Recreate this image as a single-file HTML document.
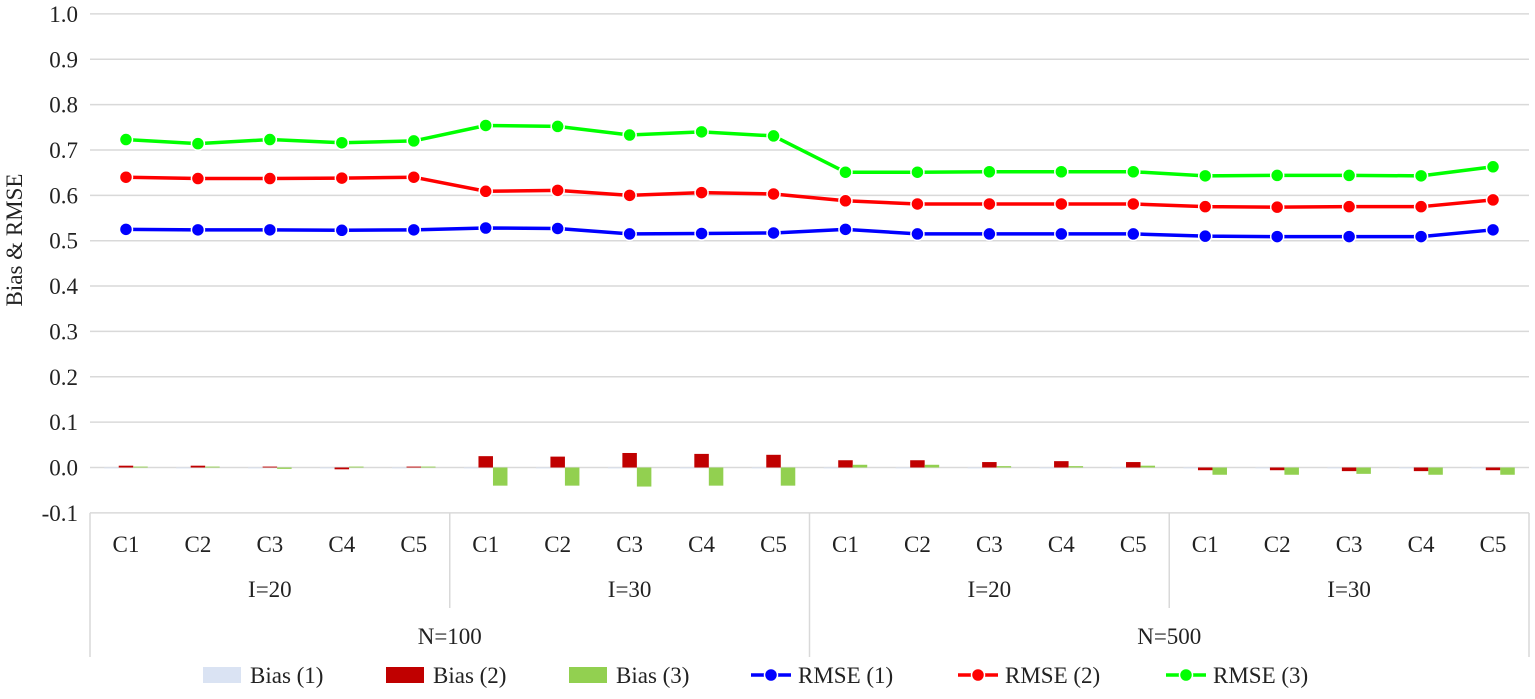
<!DOCTYPE html>
<html><head><meta charset="utf-8"><style>
body{margin:0;background:#fff;}
svg text{font-family:"Liberation Serif",serif;fill:#222;}
</style></head><body>
<svg id="chart" width="1535" height="694" xmlns="http://www.w3.org/2000/svg">
<g id="grid"></g><g id="bars"></g><g id="lines"></g><g id="axis"></g><g id="legend"></g>
</svg>
<script>
const categories=["C1","C2","C3","C4","C5","C1","C2","C3","C4","C5","C1","C2","C3","C4","C5","C1","C2","C3","C4","C5"];
const iGroups=["I=20","I=30","I=20","I=30"];
const nGroups=["N=100","N=500"];
const yTicks=[-0.1,0,0.1,0.2,0.3,0.4,0.5,0.6,0.7,0.8,0.9,1.0];
const bias1=[-0.002,-0.002,-0.002,-0.002,-0.002,-0.002,-0.002,-0.002,-0.002,-0.002,-0.002,-0.002,-0.002,-0.002,-0.002,-0.002,-0.002,-0.002,-0.002,-0.002];
const bias2=[0.004,0.004,0.002,-0.004,0.002,0.025,0.024,0.032,0.030,0.028,0.016,0.016,0.012,0.014,0.012,-0.006,-0.006,-0.008,-0.008,-0.006];
const bias3=[0.002,0.002,-0.003,0.002,0.002,-0.040,-0.040,-0.042,-0.040,-0.040,0.006,0.006,0.003,0.003,0.004,-0.016,-0.016,-0.014,-0.016,-0.016];
const rmse1=[0.525,0.524,0.524,0.523,0.524,0.528,0.527,0.515,0.516,0.517,0.525,0.515,0.515,0.515,0.515,0.510,0.509,0.509,0.509,0.524];
const rmse2=[0.640,0.637,0.637,0.638,0.640,0.609,0.611,0.600,0.606,0.603,0.588,0.581,0.581,0.581,0.581,0.575,0.574,0.575,0.575,0.590];
const rmse3=[0.723,0.714,0.723,0.716,0.720,0.754,0.752,0.733,0.740,0.731,0.651,0.651,0.652,0.652,0.652,0.643,0.644,0.644,0.643,0.663];
const NS="http://www.w3.org/2000/svg";
const L=90,R=1529,cw=(R-L)/20;
const y=v=>467.5-v*453.6;
const x=i=>L+cw*(i+0.5);
const FS=23;
function mk(tag,attrs,parent,txt){const e=document.createElementNS(NS,tag);for(const k in attrs)e.setAttribute(k,attrs[k]);if(txt!==undefined)e.textContent=txt;parent.appendChild(e);return e;}
const grid=document.getElementById('grid'),bars=document.getElementById('bars'),lines=document.getElementById('lines'),axis=document.getElementById('axis'),legend=document.getElementById('legend');
yTicks.forEach(t=>{
  const g=mk('line',{x1:L,x2:R,y1:y(t),y2:y(t),stroke:'#d9d9d9','stroke-width':1.5},grid);
  
  
  const tx=mk('text',{x:78,y:y(t)+8,'text-anchor':'end','font-size':FS},axis,t.toFixed(1));
  
  
});
const yt=mk('text',{x:22,y:240,'text-anchor':'middle','font-size':FS,transform:'rotate(-90 22 240)'},axis,'Bias & RMSE');


const bw=14.5;
[[bias1,'#dae3f3',-1],[bias2,'#c00000',0],[bias3,'#92d050',1]].forEach(([arr,col,off])=>{
  arr.forEach((v,i)=>{
    const cx=x(i)+off*bw;
    const r=mk('rect',{x:cx-bw/2,y:Math.min(y(v),y(0)),width:bw,height:Math.max(Math.abs(y(v)-y(0)),0.8),fill:col},bars);
    
    
  });
});
[[rmse1,'#0000ff'],[rmse2,'#ff0000'],[rmse3,'#00ff00']].forEach(([arr,col])=>{
  const p=mk('polyline',{points:arr.map((v,i)=>x(i)+','+y(v)).join(' '),fill:'none',stroke:col,'stroke-width':3.5,'stroke-linejoin':'round'},lines);
  
  
  arr.forEach((v,i)=>{
    const c=mk('circle',{cx:x(i),cy:y(v),r:6.5,fill:col,stroke:'#fff','stroke-width':1.5},lines);
    
    
  });
});
const ab=y(-0.1);
mk('line',{x1:L,x2:L,y1:ab,y2:657,stroke:'#d9d9d9','stroke-width':1.5},axis);
[5,10,15].forEach(k=>{mk('line',{x1:L+cw*k,x2:L+cw*k,y1:ab,y2:k==10?657:608,stroke:'#d9d9d9','stroke-width':1.5},axis);});
mk('line',{x1:R,x2:R,y1:ab,y2:657,stroke:'#d9d9d9','stroke-width':1.5},axis);
categories.forEach((c,i)=>{
  const t=mk('text',{x:x(i),y:552,'text-anchor':'middle','font-size':FS},axis,c);
  
  
});
iGroups.forEach((g,i)=>{
  const t=mk('text',{x:L+cw*(i*5+2.5),y:597,'text-anchor':'middle','font-size':FS},axis,g);
  
  
});
nGroups.forEach((g,i)=>{
  const t=mk('text',{x:L+cw*(i*10+5),y:644,'text-anchor':'middle','font-size':FS},axis,g);
  
  
});
const leg=[['Bias (1)','#dae3f3','bar',203],['Bias (2)','#c00000','bar',386],['Bias (3)','#92d050','bar',569],['RMSE (1)','#0000ff','line',751],['RMSE (2)','#ff0000','line',958],['RMSE (3)','#00ff00','line',1166]];
leg.forEach(([n,col,type,lx])=>{
  const g=mk('g',{},legend);
  
  
  if(type==='bar'){mk('rect',{x:lx,y:667,width:38,height:16,fill:col},g);mk('text',{x:lx+47,y:683,'font-size':FS},g,n);}
  else{mk('line',{x1:lx,x2:lx+40,y1:675,y2:675,stroke:col,'stroke-width':3.5},g);mk('circle',{cx:lx+20,cy:675,r:6.5,fill:col,stroke:'#fff','stroke-width':1.5},g);mk('text',{x:lx+47,y:683,'font-size':FS},g,n);}
});
</script>
</body></html>
